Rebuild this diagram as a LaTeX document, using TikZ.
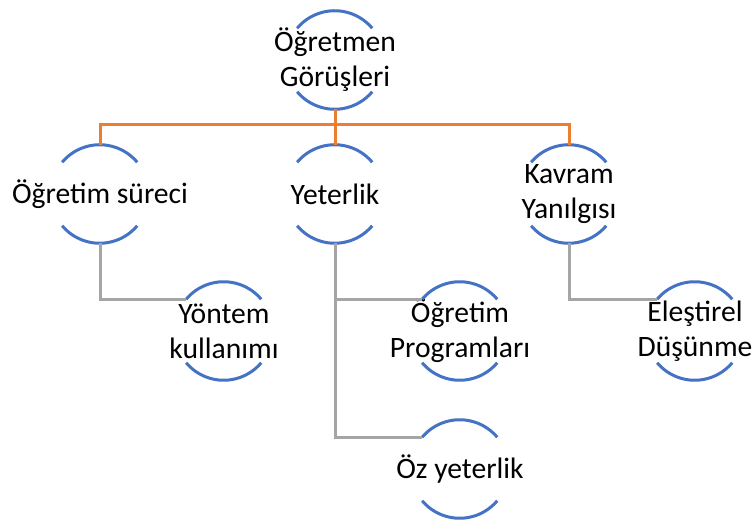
\documentclass[tikz,border=0pt]{standalone}
\usepackage{fontspec}
\setmainfont{Carlito}
\usepackage{xcolor}
\definecolor{arcblue}{RGB}{68, 114, 196}
\definecolor{linkorange}{RGB}{237, 125, 49}
\definecolor{linkgray}{RGB}{165, 165, 165}

\tikzset{
  concept/.style={circle, minimum size=49pt, inner sep=0pt},
  conceptlabel/.style={align=center, inner sep=0pt, font=\fontsize{14.8}{17.4}\selectfont},
  arcline/.style={draw=arcblue, line width=1.5pt},
  toplink/.style={draw=linkorange, line width=1.5pt},
  sublink/.style={draw=linkgray, line width=1.5pt}
}

\begin{document}
\begin{tikzpicture}[x=0.5pt, y=0.5pt]
        \useasboundingbox (0,0) rectangle (753,-522);

        % Root
        \node[concept, label={[conceptlabel]center:Öğretmen\\Görüşleri}] (root) at (335,-60) {};

        % Second level
        \node[concept, label={[conceptlabel]center:Öğretim süreci}] (surec) at (100,-194) {};
        \node[concept, label={[conceptlabel]center:Yeterlik}] (yeterlik) at (335,-194) {};
        \node[concept, label={[conceptlabel]center:Kavram\\Yanılgısı}] (kavram) at (569,-194) {};

        % Third level
        \node[concept, label={[conceptlabel]center:Yöntem\\kullanımı}] (yontem) at (224,-331) {};
        \node[concept, label={[conceptlabel]center:Öğretim\\Programları}] (program) at (460,-331) {};
        \node[concept, label={[conceptlabel]center:Öz yeterlik}] (oz) at (460,-469) {};
        \node[concept, label={[conceptlabel]center:Eleştirel\\Düşünme}] (elestirel) at (695,-331) {};

        % Circle arcs, top and bottom only
        \foreach \n in {root,surec,yeterlik,kavram,yontem,program,oz,elestirel} {
          \draw[arcline] (\n.140) arc[start angle=140, end angle=40, radius=24.5pt];
          \draw[arcline] (\n.220) arc[start angle=220, end angle=320, radius=24.5pt];
        }

        % Orange links to second level
        \coordinate (bus) at (335,-125);
        \draw[toplink] (root.south) -- (bus);
        \draw[toplink] (bus) -| (surec.north);
        \draw[toplink] (bus) -| (kavram.north);
        \draw[toplink] (bus) -- (yeterlik.north);

        % Gray links to third level
        \draw[sublink] (surec.south) |- (yontem.140);
        \draw[sublink] (yeterlik.south) |- (program.140);
        \draw[sublink] (yeterlik.south) |- (oz.140);
        \draw[sublink] (kavram.south) |- (elestirel.140);
    \end{tikzpicture}
\end{document}
